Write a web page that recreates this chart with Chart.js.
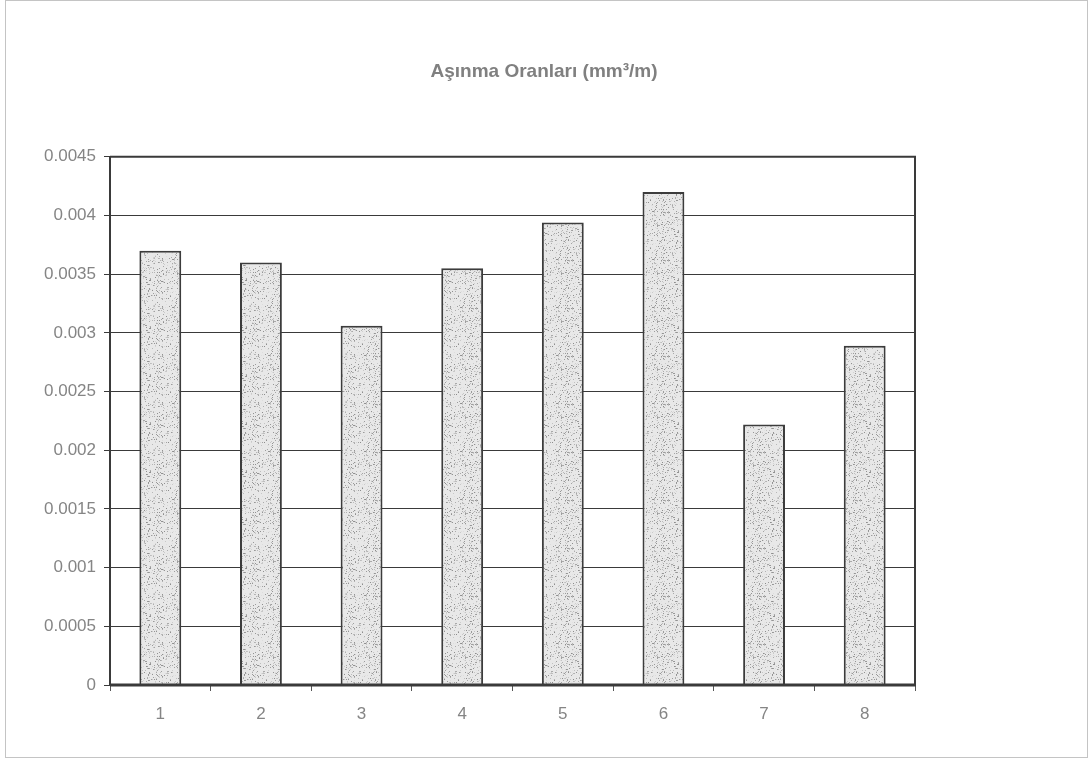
<!DOCTYPE html>
<html>
<head>
<meta charset="utf-8">
<script src="https://cdn.jsdelivr.net/npm/chart.js@4.4.1/dist/chart.umd.min.js"></script>
<style>
  html, body { margin: 0; padding: 0; background: #ffffff; }
  #wrap { width: 1088px; height: 762px; position: relative; }
</style>
</head>
<body>
<div id="wrap"><canvas id="c" width="1088" height="762"></canvas></div>
<script>
// Wear rates per sample
const categories = ['1', '2', '3', '4', '5', '6', '7', '8'];
const wearRates = [0.0037, 0.0036, 0.00306, 0.00355, 0.00394, 0.0042, 0.00222, 0.00289];
const yTicks = [0, 0.0005, 0.001, 0.0015, 0.002, 0.0025, 0.003, 0.0035, 0.004, 0.0045];
const titleText = 'Aşınma Oranları (mm³/m)';

// Stippled grey fill for the bars (deterministic speckle texture)
function makeStipple() {
  const c = document.createElement('canvas');
  c.width = 48; c.height = 48;
  const g = c.getContext('2d');
  g.fillStyle = '#e8e8e8';
  g.fillRect(0, 0, 48, 48);
  let s = 12345;
  const next = () => { s = (s * 1103515245 + 12345) % 2147483648; return s / 2147483648; };
  for (let i = 0; i < 480; i++) {
    const x = Math.floor(next() * 48), y = Math.floor(next() * 48);
    const shade = 140 + Math.floor(next() * 90);
    g.fillStyle = `rgb(${shade},${shade},${shade})`;
    g.fillRect(x, y, 1, 1);
  }
  return g.createPattern(c, 'repeat');
}

// Frame around the plot area and a faint outer frame around the whole chart
const frames = {
  id: 'frames',
  beforeDraw(chart) {
    const ctx = chart.ctx;
    ctx.save();
    ctx.strokeStyle = '#c4c4c4';
    ctx.lineWidth = 1;
    ctx.strokeRect(5.5, 0.5, 1082, 757);
    ctx.restore();
  },
  afterDatasetsDraw(chart) {
    const { ctx, chartArea: a } = chart;
    ctx.save();
    ctx.strokeStyle = '#3a3a3a';
    ctx.lineWidth = 2;
    ctx.beginPath();
    ctx.moveTo(a.left, a.top); ctx.lineTo(a.right, a.top); ctx.lineTo(a.right, a.bottom);
    ctx.stroke();
    ctx.lineWidth = 3;
    ctx.beginPath();
    ctx.moveTo(a.left, a.bottom); ctx.lineTo(a.right + 1, a.bottom);
    ctx.stroke();
    ctx.restore();
  }
};

const tickFont = { family: '"Liberation Sans", Arial, sans-serif', size: 17 };

new Chart(document.getElementById('c'), {
  type: 'bar',
  data: {
    labels: categories,
    datasets: [{
      data: wearRates,
      backgroundColor: makeStipple(),
      borderColor: '#3c3c3c',
      borderWidth: 2,
      borderSkipped: 'bottom',
      barPercentage: 0.8,
      categoryPercentage: 0.52
    }]
  },
  options: {
    responsive: false,
    animation: false,
    devicePixelRatio: 1,
    layout: { padding: { left: 0, right: 0, top: 0, bottom: 27 } },
    plugins: {
      legend: { display: false },
      tooltip: { enabled: false },
      title: {
        display: true,
        text: titleText,
        color: '#808080',
        font: { family: '"Liberation Sans", Arial, sans-serif', size: 19, weight: 'bold' },
        padding: { top: 60, bottom: 74 }
      }
    },
    scales: {
      x: {
        grid: { display: true, drawOnChartArea: false, drawTicks: true, tickLength: 6, color: '#555', offset: true },
        border: { display: false },
        ticks: { color: '#858585', font: tickFont, padding: 13 },
        afterFit(s) { s.height = 50; }
      },
      y: {
        min: 0,
        max: 0.0045,
        afterBuildTicks(s) { s.ticks = yTicks.map(v => ({ value: v })); },
        grid: { color: '#3a3a3a', lineWidth: 1, tickLength: 6, drawTicks: true },
        border: { display: true, color: '#3a3a3a', width: 2 },
        ticks: {
          color: '#858585',
          font: tickFont,
          padding: 8,
          callback: v => String(Number(v.toFixed(4)))
        },
        afterFit(s) { s.width = 110; }
      },
      // empty margin on the right side of the plot
      yRight: {
        position: 'right',
        min: 0,
        max: 0.0045,
        grid: { display: false, drawOnChartArea: false },
        border: { display: false },
        ticks: { display: false },
        afterFit(s) { s.width = 173; }
      }
    }
  },
  plugins: [frames]
});
</script>
</body>
</html>
